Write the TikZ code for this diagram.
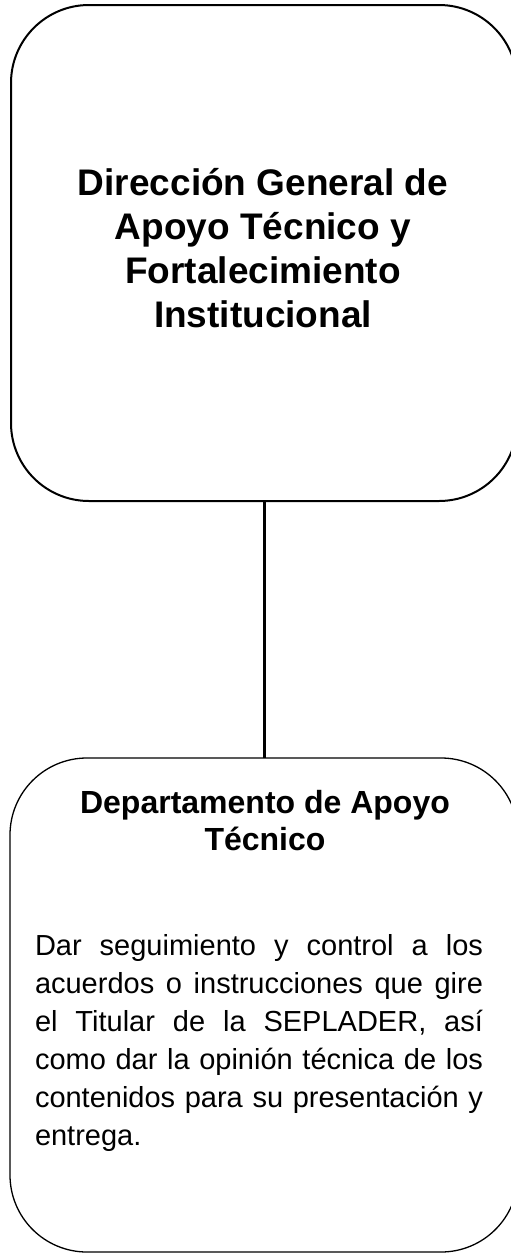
\documentclass[tikz,border=0pt]{standalone}
\usepackage{fontspec}
\setmainfont{Liberation Sans}
\begin{document}
\begin{tikzpicture}[x=1pt,y=-1pt,
  orgbox/.style={draw=black, rounded corners=#1, inner sep=0pt, outer sep=0pt},
  txt/.style={inner sep=0pt, outer sep=0pt, anchor=base}]
\useasboundingbox (0,0) rectangle (511,1253);
\fill[white] (0,0) rectangle (511,1253);
% boxes
\node[orgbox=78pt, line width=2pt, minimum width=506pt, minimum height=496pt] (top) at (264,253) {};
\node[orgbox=77pt, line width=1.3pt, minimum width=508pt, minimum height=494pt] (bot) at (264,1005) {};
% connector
\draw[line width=3pt] (top.south) -- (bot.north);
% texts
\node[txt] (toptext) at (263,195) {\parbox[t]{470pt}{\centering\fontsize{37}{44}\selectfont\bfseries
Dirección General de\\ Apoyo Técnico y\\ Fortalecimiento\\ Institucional}};
\node[txt] (bottitle) at (265,813) {\parbox[t]{470pt}{\centering\fontsize{32}{37}\selectfont\bfseries
Departamento de Apoyo\\ Técnico}};
\node[txt, anchor=base west] (botbody) at (35,955) {\parbox[t]{448pt}{\fontsize{29}{38}\selectfont\hyphenpenalty=10000\tolerance=10000\hbadness=10000
Dar seguimiento y control a los\linebreak
acuerdos o instrucciones que gire\linebreak
el Titular de la SEPLADER, así\linebreak
como dar la opinión técnica de los\linebreak
contenidos para su presentación y\linebreak
entrega.}};
\end{tikzpicture}
\end{document}
